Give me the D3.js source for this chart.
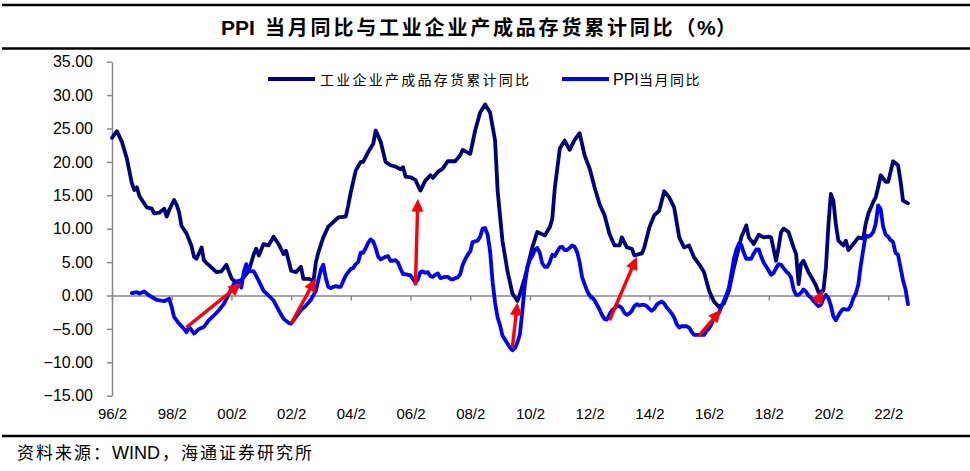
<!DOCTYPE html>
<html lang="zh">
<head>
<meta charset="UTF-8">
<title>PPI当月同比与工业企业产成品存货累计同比</title>
<script src="https://d3js.org/d3.v7.min.js"></script>
<style>
  body { margin: 0; background: #fff; }
  svg { display: block; font-family: "Liberation Sans", Arial, "Noto Sans CJK SC", sans-serif; }
  .axis text { font-size: 15px; fill: #000; }
  .axis path, .axis line { stroke: #898989; stroke-width: 1.5; }
  .cjk { font-family: "Noto Sans CJK SC", sans-serif; }
</style>
</head>
<body>
<script>
  // 工业企业产成品存货累计同比 (%)
  const invMonths = [
    "1996-02","1996-04","1996-06","1996-08","1996-10","1996-11","1996-12","1997-01","1997-02","1997-04",
    "1997-06","1997-07","1997-09","1997-11","1997-12","1998-01","1998-03","1998-04","1998-05","1998-06",
    "1998-08","1998-10","1998-11","1998-12","1999-02","1999-03","1999-04","1999-06","1999-08","1999-10",
    "1999-12","2000-02","2000-03","2000-05","2000-07","2000-09","2000-11","2000-12","2001-01","2001-03",
    "2001-05","2001-07","2001-09","2001-11","2001-12","2002-02","2002-04","2002-06","2002-07","2002-09",
    "2002-11","2002-12","2003-01","2003-03","2003-05","2003-07","2003-09","2003-12","2004-01","2004-02",
    "2004-04","2004-06","2004-07","2004-09","2004-11","2004-12","2005-02","2005-04","2005-06","2005-08",
    "2005-10","2005-11","2005-12","2006-02","2006-04","2006-05","2006-06","2006-08","2006-10","2006-11",
    "2007-01","2007-03","2007-05","2007-08","2007-10","2007-11","2008-02","2008-04","2008-06","2008-08",
    "2008-10","2008-12","2009-01","2009-03","2009-05","2009-07","2009-09","2009-10","2009-12","2010-03",
    "2010-05","2010-08","2010-10","2010-11","2010-12","2011-02","2011-04","2011-06","2011-08","2011-10",
    "2011-12","2012-02","2012-04","2012-06","2012-08","2012-10","2012-12","2013-02","2013-03","2013-05",
    "2013-07","2013-08","2013-11","2013-12","2014-02","2014-04","2014-06","2014-08","2014-10","2014-12",
    "2015-02","2015-04","2015-06","2015-08","2015-10","2015-12","2016-02","2016-04","2016-06","2016-08",
    "2016-10","2016-12","2017-02","2017-03","2017-05","2017-06","2017-08","2017-10","2017-12","2018-02",
    "2018-03","2018-05","2018-06","2018-07","2018-08","2018-10","2018-12","2019-01","2019-02","2019-03",
    "2019-04","2019-06","2019-08","2019-09","2019-10","2019-12","2020-01","2020-02","2020-03","2020-04",
    "2020-05","2020-06","2020-08","2020-09","2020-10","2020-12","2021-02","2021-04","2021-05","2021-06",
    "2021-08","2021-09","2021-10","2021-11","2022-01","2022-02","2022-04","2022-06","2022-07","2022-08",
    "2022-10"
  ];
  const invValues = [
    23.6, 24.6, 23.0, 20.5, 16.8, 15.8, 16.2, 14.9, 14.3, 13.2,
    13.0, 12.3, 12.4, 13.0, 11.8, 12.8, 14.3, 13.6, 12.5, 10.4,
    9.3, 7.4, 5.8, 5.5, 7.2, 5.3, 4.9, 4.2, 3.5, 3.6,
    4.6, 2.6, 2.2, 2.0, 2.7, 3.7, 6.2, 7.0, 6.0, 7.7,
    7.5, 8.8, 7.7, 6.2, 6.7, 3.7, 3.5, 4.3, 2.5, 2.5,
    2.2, 5.0, 6.5, 8.7, 10.3, 11.0, 11.7, 11.8, 13.5, 15.5,
    18.7, 20.0, 20.0, 21.5, 22.7, 24.7, 23.0, 20.0, 19.5, 19.3,
    18.9, 19.2, 17.8, 17.7, 17.3, 16.5, 15.7, 17.2, 18.0, 17.6,
    18.5, 19.0, 20.1, 20.1, 21.0, 21.8, 21.2, 24.7, 27.4, 28.6,
    27.4, 23.2, 15.7, 8.2, 3.7, 0.3, -0.8, 0.2, 2.7, 7.2,
    9.5, 9.0, 10.2, 11.5, 16.0, 22.0, 23.2, 21.8, 23.3, 24.3,
    21.0, 19.0, 16.2, 13.7, 12.0, 9.2, 7.5, 7.5, 8.7, 7.2,
    7.0, 6.0, 6.3, 7.2, 10.2, 12.0, 12.7, 15.6, 14.7, 13.2,
    8.7, 7.2, 7.5, 5.7, 4.7, 3.5, 0.7, -0.9, -1.7, -1.2,
    0.7, 4.2, 7.2, 8.7, 10.5, 8.7, 7.7, 9.1, 8.7, 8.8,
    8.7, 5.2, 7.2, 9.5, 10.0, 9.5, 7.2, 6.2, 1.7, 4.7,
    5.2, 3.5, 2.2, 1.5, 0.5, 0.7, 4.2, 10.7, 15.2, 14.2,
    10.7, 8.2, 7.5, 8.2, 6.8, 7.7, 8.7, 8.5, 10.7, 12.2,
    14.0, 14.7, 16.2, 18.0, 17.0, 17.0, 20.1, 19.5, 17.2, 14.2,
    13.8
  ];

  // PPI当月同比 (%), 1996-10 ~ 2002-12
  const ppiEarlyMonths = [
    "1996-10","1996-12","1997-01","1997-03","1997-05","1997-08","1997-11","1998-01","1998-02","1998-03",
    "1998-05","1998-07","1998-08","1998-09","1998-11","1999-01","1999-03","1999-05","1999-07","1999-09",
    "1999-11","2000-01","2000-03","2000-05","2000-06","2000-07","2000-08","2000-09","2000-11","2001-01",
    "2001-03","2001-05","2001-07","2001-09","2001-11","2002-01","2002-02","2002-04","2002-06","2002-08",
    "2002-10","2002-12"
  ];
  const ppiEarlyValues = [
    0.35, 0.5, 0.3, 0.6, 0.0, -0.65, -0.85, -0.5, -1.75, -3.2,
    -4.2, -5.0, -5.5, -4.7, -5.7, -5.0, -4.7, -3.7, -3.0, -2.2,
    -1.25, 0.25, 1.75, 2.2, 1.2, 3.5, 4.7, 3.7, 3.6, 2.2,
    0.7, 0.0, -0.75, -2.2, -3.5, -4.1, -4.2, -3.2, -2.2, -1.5,
    -0.65, 0.75
  ];
  // PPI当月同比 (%), monthly from 2003-01
  const ppiMonthlyStart = "2003-01";
  const ppiMonthlyValues = [
    2.4, 3.9, 4.6, 2.6, 1.3, 1.1, 1.3, 1.4, 1.3, 1.3, 2.2, 3.0,
    3.5, 4.0, 4.1, 4.7, 5.0, 6.4, 6.4, 7.1, 7.9, 8.4, 8.1, 7.1,
    5.8, 5.4, 5.6, 5.8, 5.9, 5.2, 5.2, 5.3, 4.9, 4.0, 3.2, 3.2,
    3.1, 3.0, 2.5, 1.9, 2.4, 3.5, 3.6, 3.4, 3.5, 2.9, 2.8, 3.1,
    3.3, 2.6, 2.7, 2.8, 2.8, 2.5, 2.4, 2.6, 2.7, 3.2, 4.6, 5.4,
    6.1, 6.6, 8.0, 8.1, 8.2, 8.8, 10.0, 10.1, 9.1, 6.6, 2.0, -1.1,
    -3.3, -4.5, -6.0, -6.6, -7.2, -7.8, -8.2, -7.9, -7.0, -5.8, -2.1, 1.7,
    4.3, 5.4, 5.9, 6.8, 7.1, 6.4, 4.8, 4.3, 4.3, 5.0, 6.1, 5.9,
    6.6, 7.2, 7.3, 6.8, 6.8, 7.1, 7.5, 7.3, 6.5, 5.0, 2.7, 1.7,
    0.7, 0.0, -0.3, -0.7, -1.4, -2.1, -2.9, -3.5, -3.6, -2.8, -2.2, -1.9,
    -1.6, -1.6, -1.9, -2.6, -2.9, -2.7, -2.3, -1.6, -1.3, -1.5, -1.4, -1.4,
    -1.6, -2.0, -2.3, -2.0, -1.4, -1.1, -0.9, -1.2, -1.8, -2.2, -2.7, -3.3,
    -4.3, -4.8, -4.6, -4.6, -4.6, -4.8, -5.4, -5.9, -5.9, -5.9, -5.9, -5.9,
    -5.3, -4.9, -4.3, -3.4, -2.8, -2.6, -1.7, -0.8, 0.1, 1.2, 3.3, 5.5,
    6.9, 7.8, 7.6, 6.4, 5.5, 5.5, 5.5, 6.3, 6.9, 6.9, 5.8, 4.9,
    4.3, 3.7, 3.1, 3.4, 4.1, 4.7, 4.6, 4.1, 3.6, 3.3, 2.7, 0.9,
    0.1, 0.1, 0.4, 0.9, 0.6, 0.0, -0.3, -0.8, -1.2, -1.6, -1.4, -0.5,
    0.1, -0.4, -1.5, -3.1, -3.7, -3.0, -2.4, -2.0, -2.1, -2.1, -1.5, -0.4,
    0.3, 1.7, 4.4, 6.8, 9.0, 8.8, 9.0, 9.5, 10.7, 13.5, 12.9, 10.3,
    9.1, 8.8, 8.3, 8.0, 6.4, 6.1, 4.2, 2.3, 0.9, -1.3
  ];

  // 红色箭头：起点与终点（月份, 数值）
  const arrowFrom = [["1998-08", -4.75], ["2002-02", -4.2], ["2006-04", 1.5], ["2009-07", -7.7],
                     ["2012-10", -3.7], ["2015-10", -6.0], ["2019-09", -1.2]];
  const arrowTo   = [["2000-06", 1.85], ["2002-12", 2.6], ["2006-05", 14.5], ["2009-09", -1.0],
                     ["2013-09", 5.8], ["2016-07", -2.1], ["2019-12", 0.8]];

  const xTickLabels = ["96/2","98/2","00/2","02/2","04/2","06/2","08/2","10/2","12/2","14/2","16/2","18/2","20/2","22/2"];
  const yTickValues = [-15, -10, -5, 0, 5, 10, 15, 20, 25, 30, 35];

  const seriesNames = ["工业企业产成品存货累计同比", "PPI当月同比"];
  const seriesColors = ["#000080", "#0000FF"];

  const width = 970, height = 471;
  const parseMonth = d3.timeParse("%Y-%m");
  const parseTick = s => {
    const [yy, mm] = s.split("/").map(Number);
    return new Date(yy < 50 ? 2000 + yy : 1900 + yy, mm - 1, 1);
  };

  const invData = invMonths.map((m, i) => ({ date: parseMonth(m), value: invValues[i] }));
  const ppiStart = parseMonth(ppiMonthlyStart);
  const ppiData = ppiEarlyMonths.map((m, i) => ({ date: parseMonth(m), value: ppiEarlyValues[i] }))
    .concat(ppiMonthlyValues.map((v, i) => ({ date: d3.timeMonth.offset(ppiStart, i), value: v })));

  const svg = d3.select("body").append("svg")
      .attr("width", width)
      .attr("height", height);

  const x = d3.scaleTime()
      .domain([parseMonth("1996-02"), parseMonth("2022-10")])
      .range([112, 908]);
  const y = d3.scaleLinear()
      .domain([-15, 35])
      .range([395.7, 61.7]);

  // 标题与横线
  [5, 48.5, 436].forEach(ry => {
    svg.append("line").attr("x1", 2).attr("x2", width).attr("y1", ry).attr("y2", ry)
        .attr("stroke", "#000").attr("stroke-width", 2.5);
  });

  const title = svg.append("text").attr("y", 35).style("font-weight", "bold");
  title.append("tspan").attr("x", 221).style("font-size", "21px").text("PPI");
  title.append("tspan").attr("x", 265).attr("class", "cjk")
      .style("font-size", "20px").style("letter-spacing", "2.8px")
      .text("当月同比与工业企业产成品存货累计同比（");
  title.append("tspan").attr("x", 697).style("font-size", "21px").text("%");
  title.append("tspan").attr("x", 716).attr("class", "cjk").style("font-size", "20px").text("）");

  // 坐标轴
  const yAxis = svg.append("g")
      .attr("class", "axis")
      .attr("transform", `translate(${x.range()[0]},0)`)
      .call(d3.axisLeft(y).tickValues(yTickValues).tickFormat(d3.format(".2f"))
        .tickSize(5).tickSizeOuter(0).tickPadding(14));
  yAxis.selectAll("text").style("font-size", "16px");

  const xAxis = svg.append("g")
      .attr("class", "axis")
      .attr("transform", `translate(0,${y(0)})`)
      .call(d3.axisBottom(x).tickValues(xTickLabels.map(parseTick))
        .tickFormat((d, i) => xTickLabels[i]).tickSize(5).tickSizeOuter(0));
  xAxis.selectAll("text").attr("y", y(-15) - y(0) + 12.5);

  // 折线
  const line = d3.line().x(d => x(d.date)).y(d => y(d.value));
  [invData, ppiData].forEach((data, i) => {
    svg.append("path")
        .datum(data)
        .attr("fill", "none")
        .attr("stroke", seriesColors[i])
        .attr("stroke-width", 3.8)
        .attr("stroke-linejoin", "round")
        .attr("stroke-linecap", "round")
        .attr("d", line);
  });

  // 红色箭头
  arrowFrom.forEach((a, i) => {
    const x0 = x(parseMonth(a[0])), y0 = y(a[1]);
    const x1 = x(parseMonth(arrowTo[i][0])), y1 = y(arrowTo[i][1]);
    const len = Math.hypot(x1 - x0, y1 - y0);
    const ux = (x1 - x0) / len, uy = (y1 - y0) / len;
    const head = 13, half = 6;
    const bx = x1 - ux * head, by = y1 - uy * head;
    svg.append("line")
        .attr("x1", x0).attr("y1", y0)
        .attr("x2", x1 - ux * head * 0.7).attr("y2", y1 - uy * head * 0.7)
        .attr("stroke", "#FF0000").attr("stroke-width", 3.4);
    svg.append("path")
        .attr("d", `M${x1},${y1}L${bx - uy * half},${by + ux * half}L${bx + uy * half},${by - ux * half}Z`)
        .attr("fill", "#FF0000");
  });

  // 图例
  svg.append("line").attr("x1", 268).attr("x2", 315).attr("y1", 79).attr("y2", 79)
      .attr("stroke", seriesColors[0]).attr("stroke-width", 4);
  svg.append("text").attr("class", "cjk")
      .attr("x", 320).attr("y", 85)
      .attr("textLength", 209).attr("lengthAdjust", "spacing")
      .style("font-size", "14px")
      .text(seriesNames[0]);

  svg.append("line").attr("x1", 562).attr("x2", 609).attr("y1", 79).attr("y2", 79)
      .attr("stroke", seriesColors[1]).attr("stroke-width", 4);
  const leg2 = svg.append("text").attr("y", 85);
  leg2.append("tspan").attr("x", 613).style("font-size", "16px").text(seriesNames[1].slice(0, 3));
  leg2.append("tspan").attr("x", 639).attr("class", "cjk")
      .style("font-size", "14px").style("letter-spacing", "1.5px")
      .text(seriesNames[1].slice(3));

  // 资料来源
  const src = svg.append("text").attr("y", 459);
  src.append("tspan").attr("x", 17).attr("class", "cjk")
      .style("font-size", "17px").style("letter-spacing", "2px").text("资料来源：");
  src.append("tspan").attr("x", 112).style("font-size", "18px").text("WIND");
  src.append("tspan").attr("x", 162).attr("class", "cjk")
      .style("font-size", "17px").style("letter-spacing", "2px").text("，海通证券研究所");
</script>
</body>
</html>
